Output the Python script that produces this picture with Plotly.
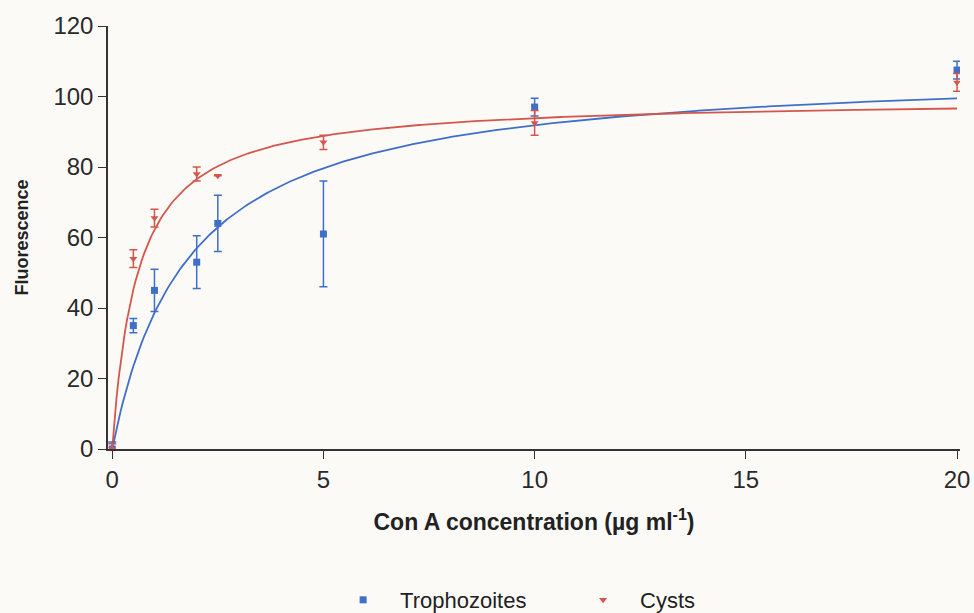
import numpy as np
import plotly.graph_objects as go

# Con A concentrations (µg/ml)
conc = [0, 0.5, 1, 2, 2.5, 5, 10, 20]

# Mean fluorescence and SEM for each cell stage
tropho_mean = [0, 35, 45, 53, 64, 61, 97, 107.5]
tropho_err = [2, 2, 6, 7.5, 8, 15, 2.5, 2.5]

cyst_x = [0, 0.5, 1, 2, 2.5, 5, 10, 20]
cyst_mean = [0, 54, 65.5, 78, 77.5, 87, 92.5, 104]
cyst_err = [1.5, 2.5, 2.5, 2, 0, 2, 3.5, 2.5]

# One-site saturation binding fits: Bmax * x / (Kd + x)
tropho_bmax, tropho_kd = 108.5, 1.81
cyst_bmax, cyst_kd = 99.5, 0.6

blue = "#3f6fc8"
red = "#d5564c"
bg = "#fcfaf7"

fit_x = np.linspace(0, 20, 400)

fig = go.Figure()

fig.add_trace(go.Scatter(
    x=fit_x, y=tropho_bmax * fit_x / (tropho_kd + fit_x),
    mode="lines", line=dict(color=blue, width=1.8), showlegend=False, hoverinfo="skip"))
fig.add_trace(go.Scatter(
    x=fit_x, y=cyst_bmax * fit_x / (cyst_kd + fit_x),
    mode="lines", line=dict(color=red, width=1.8), showlegend=False, hoverinfo="skip"))

fig.add_trace(go.Scatter(
    x=conc, y=tropho_mean, mode="markers", name="Trophozoites",
    marker=dict(symbol="square", size=7, color=blue),
    error_y=dict(type="data", array=tropho_err, color=blue, thickness=1.5, width=4)))
fig.add_trace(go.Scatter(
    x=cyst_x, y=cyst_mean, mode="markers", name="Cysts",
    marker=dict(symbol="triangle-down", size=7, color=red),
    error_y=dict(type="data", array=cyst_err, color=red, thickness=1.5, width=4)))

axis_font = dict(family="Liberation Sans, Arial, sans-serif", size=24, color="#2a2a2a")

fig.update_layout(
    width=974, height=613,
    margin=dict(l=108, r=14, t=26, b=164, autoexpand=False),
    paper_bgcolor=bg, plot_bgcolor=bg,
    font=dict(family="Liberation Sans, Arial, sans-serif", color="#222"),
    xaxis=dict(
        range=[-0.1, 20.07], tickvals=[0, 5, 10, 15, 20],
        showgrid=False, zeroline=False, showline=True, linecolor="#333", linewidth=1.5,
        ticks="outside", ticklen=8, tickcolor="#333", tickfont=axis_font, automargin=False,
        title=dict(text="<b>Con A concentration (µg ml<sup>-1</sup>)</b>",
                   font=dict(size=23, color="#222"), standoff=22),
    ),
    yaxis=dict(
        range=[0, 120], tickvals=[0, 20, 40, 60, 80, 100, 120],
        showgrid=False, zeroline=False, showline=True, linecolor="#333", linewidth=1.5,
        ticks="outside", ticklen=8, tickcolor="#333", tickfont=axis_font, automargin=False,
        title=dict(text="<b>Fluorescence</b>", font=dict(size=18, color="#222"), standoff=20),
    ),
    legend=dict(
        orientation="h", x=0.256, xanchor="left", y=-0.357, yanchor="middle",
        font=dict(size=22, color="#222"), bgcolor="rgba(0,0,0,0)",
        itemwidth=64, entrywidth=161,
    ),
)

fig.write_html("out.html")
